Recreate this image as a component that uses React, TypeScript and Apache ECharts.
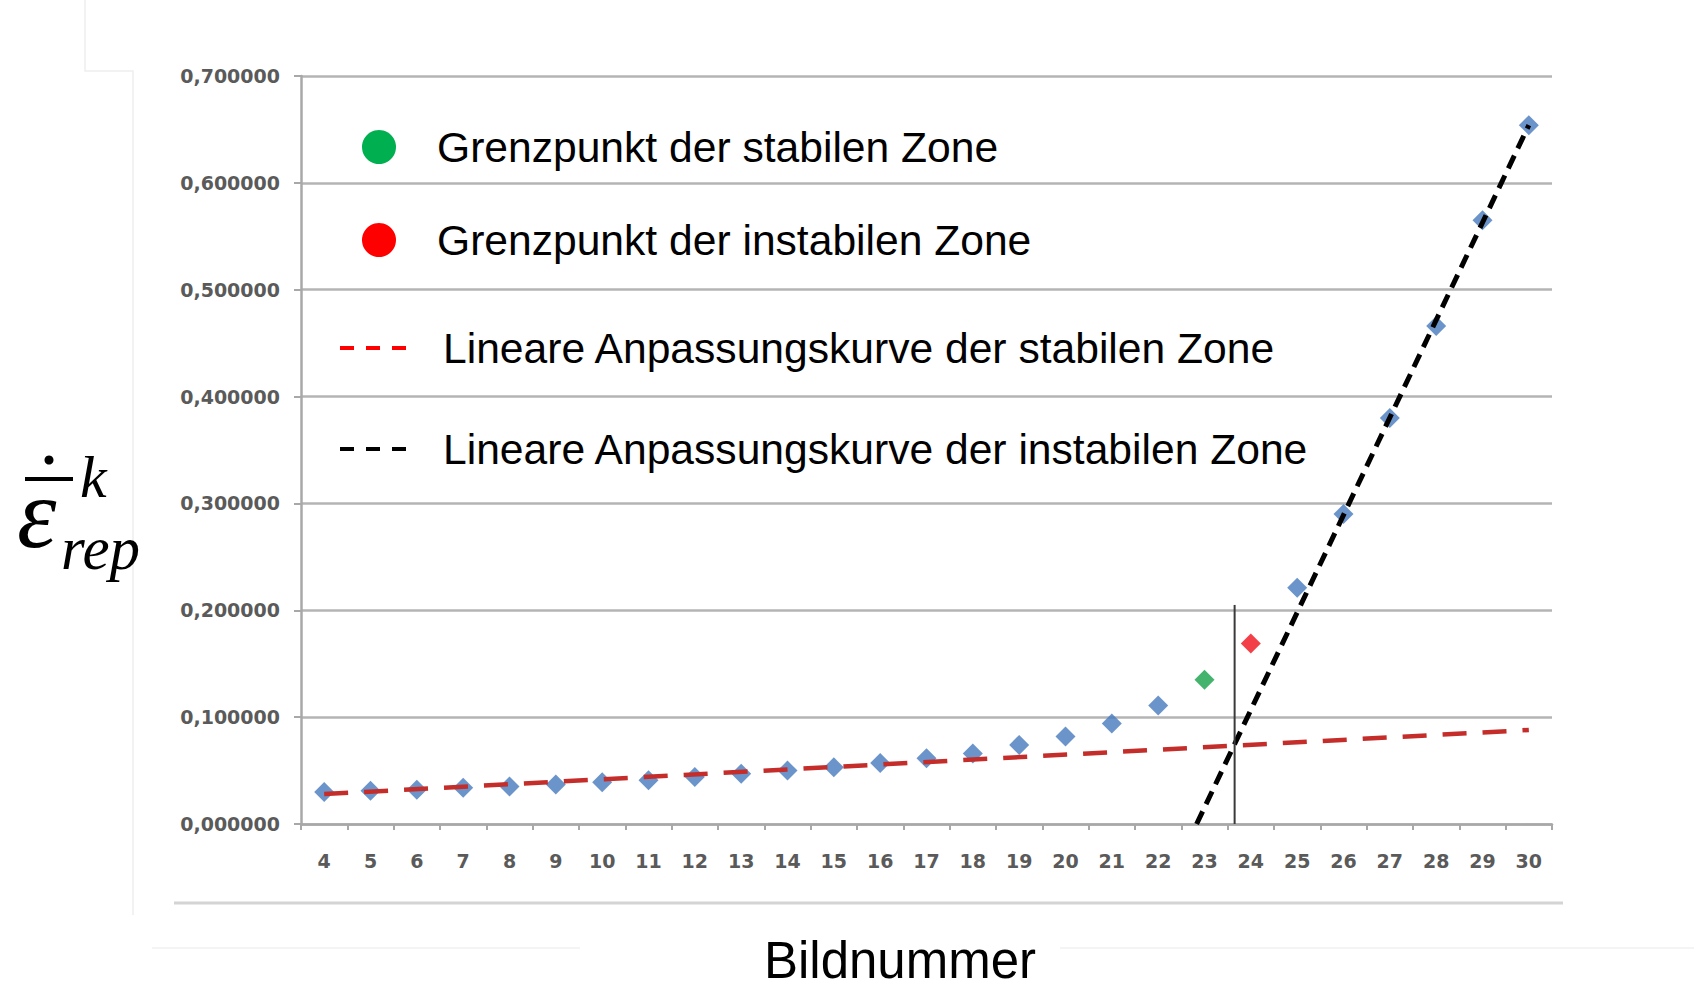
import React, { useEffect, useRef } from "react";
import * as echarts from "echarts";

// Frame numbers on the x axis
const frames = [
  "4", "5", "6", "7", "8", "9", "10", "11", "12", "13", "14", "15", "16", "17",
  "18", "19", "20", "21", "22", "23", "24", "25", "26", "27", "28", "29", "30",
];

// Representative strain rate per frame
const rates = [
  0.030, 0.031, 0.032, 0.034, 0.035, 0.037, 0.039, 0.041, 0.044, 0.047, 0.050,
  0.053, 0.057, 0.0615, 0.066, 0.074, 0.082, 0.094, 0.111, 0.135, 0.169, 0.221,
  0.290, 0.380, 0.466, 0.565, 0.654,
];

// Boundary points of the stable / unstable zone
const stableLimitFrame = "23";
const unstableLimitFrame = "24";

// Linear fits (frame, rate)
const stableFit: [number, number][] = [
  [4, 0.028],
  [30, 0.088],
];
const unstableFit: [number, number][] = [
  [22.83, 0],
  [30, 0.654],
];
// Vertical marker at the intersection of both fits
const boundaryLine: [number, number][] = [
  [23.65, 0],
  [23.65, 0.205],
];

const yTicks = { min: 0, max: 0.7, interval: 0.1 };

const legendLabels = [
  "Grenzpunkt der stabilen Zone",
  "Grenzpunkt der instabilen Zone",
  "Lineare Anpassungskurve der stabilen Zone",
  "Lineare Anpassungskurve der instabilen Zone",
];

const xTitle = "Bildnummer";

const BLUE = "#4679bd";
const GREEN = "#00b050";
const RED = "#ff0000";
const FIT_RED = "#c42d29";

export default function App() {
  const ref = useRef<HTMLDivElement>(null);

  useEffect(() => {
    if (!ref.current) return;
    const chart = echarts.init(ref.current, undefined, { renderer: "svg" });

    const blueData = frames.map((f, i) =>
      f === stableLimitFrame || f === unstableLimitFrame ? [f, "-"] : [f, rates[i]]
    );
    const greenData = frames
      .map((f, i) => [f, rates[i]])
      .filter((d) => d[0] === stableLimitFrame);
    const redData = frames
      .map((f, i) => [f, rates[i]])
      .filter((d) => d[0] === unstableLimitFrame);

    const tickLabelStyle = {
      fontFamily: "DejaVu Sans",
      fontSize: 19,
      fontWeight: "bold" as const,
      color: "#5a5a5a",
    };

    const dashRow = (y: number, color: string) =>
      [340, 366, 392].map((x) => ({
        type: "rect",
        shape: { x, y: y - 2, width: 14, height: 4 },
        style: { fill: color },
        z: 10,
      }));

    const legendText = (text: string, x: number, y: number) => ({
      type: "text",
      x,
      y,
      style: {
        text,
        fontFamily: "Liberation Sans, Arial, sans-serif",
        fontSize: 42.6,
        fill: "#000",
        align: "left",
        verticalAlign: "middle",
      },
      z: 10,
    });

    const serif = "Liberation Serif, DejaVu Serif, serif";

    chart.setOption({
      animation: false,
      backgroundColor: "#ffffff",
      grid: { left: 301, right: 156, top: 76, bottom: 166, containLabel: false },
      xAxis: [
        {
          type: "category",
          data: frames,
          boundaryGap: true,
          axisLine: { show: true, lineStyle: { color: "#a8a8a8", width: 2.5 } },
          axisTick: {
            show: true,
            interval: 0,
            length: 6,
            lineStyle: { color: "#a8a8a8", width: 2 },
          },
          axisLabel: { interval: 0, margin: 27, ...tickLabelStyle },
          splitLine: { show: false },
        },
        {
          type: "value",
          min: 3.5,
          max: 30.5,
          show: false,
        },
      ],
      yAxis: {
        type: "value",
        min: yTicks.min,
        max: yTicks.max,
        interval: yTicks.interval,
        axisLine: { show: true, lineStyle: { color: "#a8a8a8", width: 2.5 } },
        axisTick: { show: true, length: 7, lineStyle: { color: "#a8a8a8", width: 2 } },
        axisLabel: {
          margin: 21,
          ...tickLabelStyle,
          formatter: (v: number) => v.toFixed(6).replace(".", ","),
        },
        splitLine: { show: true, lineStyle: { color: "#b4b4b4", width: 2.5 } },
      },
      series: [
        {
          type: "scatter",
          xAxisIndex: 0,
          data: blueData,
          symbol: "diamond",
          symbolSize: 20,
          itemStyle: { color: BLUE },
          z: 2,
        },
        {
          type: "scatter",
          xAxisIndex: 0,
          data: greenData,
          symbol: "diamond",
          symbolSize: 20,
          itemStyle: { color: "#15a04a" },
          z: 2,
        },
        {
          type: "scatter",
          xAxisIndex: 0,
          data: redData,
          symbol: "diamond",
          symbolSize: 20,
          itemStyle: { color: "#f0101a" },
          z: 2,
        },
        {
          type: "line",
          xAxisIndex: 1,
          data: stableFit,
          showSymbol: false,
          lineStyle: { color: FIT_RED, width: 4.5, type: [24, 16] },
          z: 3,
        },
        {
          type: "line",
          xAxisIndex: 1,
          data: unstableFit,
          showSymbol: false,
          lineStyle: { color: "#000000", width: 5, type: [14, 8] },
          z: 3,
        },
        {
          type: "line",
          xAxisIndex: 1,
          data: boundaryLine,
          showSymbol: false,
          lineStyle: { color: "#3a3a3a", width: 2 },
          z: 3,
        },
      ],
      graphic: [
        // faint frame remains around the figure
        {
          type: "polyline",
          shape: { points: [[85, 0], [85, 71], [133, 71], [133, 915]] },
          style: { stroke: "#eeeeee", lineWidth: 1.5, fill: "none" },
          z: 0,
        },
        {
          type: "line",
          shape: { x1: 174, y1: 903, x2: 1563, y2: 903 },
          style: { stroke: "#d4d4d4", lineWidth: 3 },
          z: 0,
        },
        {
          type: "line",
          shape: { x1: 152, y1: 948, x2: 1694, y2: 948 },
          style: { stroke: "#f0f0f0", lineWidth: 1.5 },
          z: 0,
        },
        // legend
        {
          type: "circle",
          shape: { cx: 379, cy: 147, r: 17 },
          style: { fill: GREEN },
          z: 10,
        },
        legendText(legendLabels[0], 437, 147),
        {
          type: "circle",
          shape: { cx: 379, cy: 240, r: 17 },
          style: { fill: RED },
          z: 10,
        },
        legendText(legendLabels[1], 437, 240),
        ...dashRow(348, RED),
        legendText(legendLabels[2], 443, 348),
        ...dashRow(449, "#000000"),
        legendText(legendLabels[3], 443, 449),
        // x axis title
        {
          type: "rect",
          shape: { x: 580, y: 935, width: 480, height: 55 },
          style: { fill: "#ffffff" },
          z: 1,
        },
        {
          type: "text",
          x: 900,
          y: 960,
          style: {
            text: xTitle,
            fontFamily: "Liberation Sans, Arial, sans-serif",
            fontSize: 51,
            fill: "#000",
            align: "center",
            verticalAlign: "middle",
          },
          z: 10,
        },
        // y axis symbol: dotted, barred epsilon with sub/superscript
        {
          type: "circle",
          shape: { cx: 49, cy: 460, r: 4.5 },
          style: { fill: "#000" },
          z: 10,
        },
        {
          type: "rect",
          shape: { x: 25, y: 477, width: 48, height: 4 },
          style: { fill: "#000" },
          z: 10,
        },
        {
          type: "text",
          x: 17,
          y: 513,
          style: {
            text: "ε",
            fontFamily: serif,
            fontStyle: "italic",
            fontSize: 100,
            fill: "#000",
            align: "left",
            verticalAlign: "middle",
          },
          z: 10,
        },
        {
          type: "text",
          x: 80,
          y: 477,
          style: {
            text: "k",
            fontFamily: serif,
            fontStyle: "italic",
            fontSize: 60,
            fill: "#000",
            align: "left",
            verticalAlign: "middle",
          },
          z: 10,
        },
        {
          type: "text",
          x: 61,
          y: 548,
          style: {
            text: "rep",
            fontFamily: serif,
            fontStyle: "italic",
            fontSize: 61,
            fill: "#000",
            align: "left",
            verticalAlign: "middle",
          },
          z: 10,
        },
      ],
    });

    return () => chart.dispose();
  }, []);

  return (
    <div
      ref={ref}
      style={{ position: "absolute", left: 0, top: 0, width: 1708, height: 990 }}
    />
  );
}
